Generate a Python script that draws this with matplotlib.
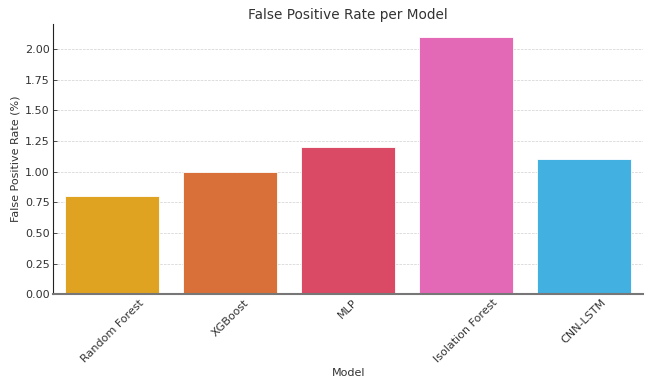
import matplotlib.pyplot as plt

models = ['Random Forest', 'XGBoost', 'MLP', 'Isolation Forest', 'CNN-LSTM']
fpr = [0.8, 1.0, 1.2, 2.1, 1.1]
colors = ['#DFA321', '#D9703A', '#DB4A64', '#E368B6', '#42B0E0']

fig, ax = plt.subplots(figsize=(6.49, 3.82), dpi=100)
fig.subplots_adjust(left=0.082, right=0.991, top=0.937, bottom=0.230)

ax.bar(range(len(models)), fpr, width=0.8, color=colors,
       edgecolor='#ffffff', linewidth=0.6, zorder=2)
ax.set_xlim(-0.5, len(models) - 0.5)
ax.set_ylim(0, 2.205)
ax.set_yticks([0, 0.25, 0.5, 0.75, 1.0, 1.25, 1.5, 1.75, 2.0])
ax.set_xticks(range(len(models)))
ax.set_xticklabels(models, rotation=45, ha='center')

ax.grid(axis='y', linestyle='--', linewidth=0.5, color='#d0d0d0', zorder=0)
ax.spines['top'].set_visible(False)
ax.spines['right'].set_visible(False)
ax.spines['left'].set_color('#222222')
ax.spines['left'].set_linewidth(0.8)
ax.spines['bottom'].set_color('#777777')
ax.spines['bottom'].set_linewidth(1.5)
ax.tick_params(axis='both', direction='in', labelsize=8, colors='#333333',
               length=3, width=0.6, pad=2.5)

ax.set_title('False Positive Rate per Model', fontsize=9.8, color='#333333', pad=4)
ax.set_xlabel('Model', fontsize=8, color='#333333')
ax.set_ylabel('False Positive Rate (%)', fontsize=8, color='#333333')
ax.yaxis.set_label_coords(-0.055, 0.5)
ax.xaxis.set_label_coords(0.5, -0.275)

fig.savefig('out.png')
